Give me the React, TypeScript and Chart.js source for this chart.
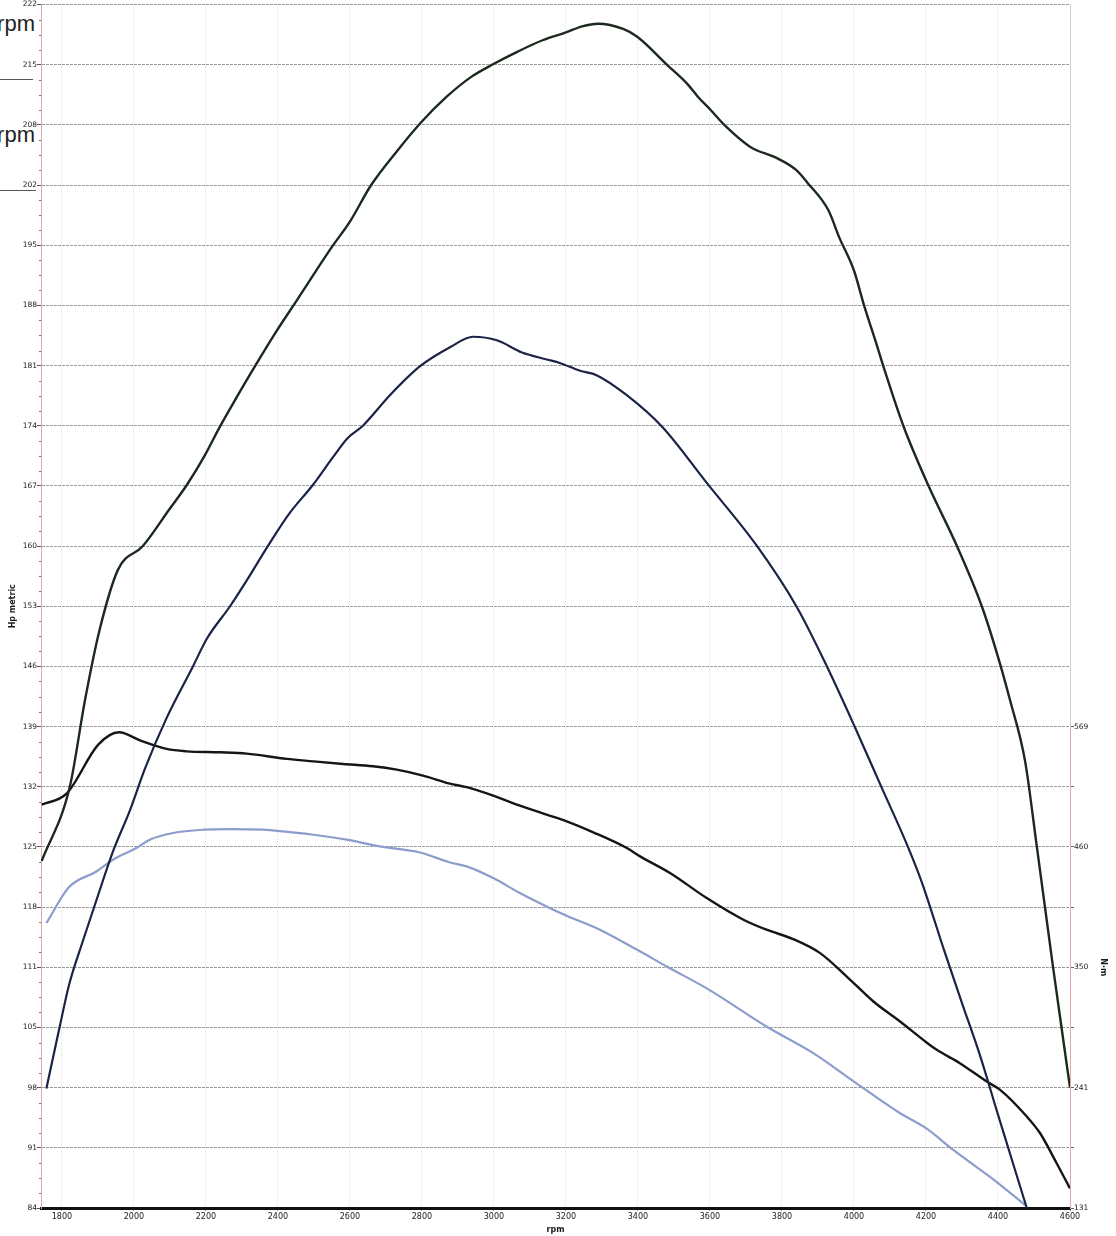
import React, { useEffect, useRef } from "react";
import { Chart, registerables } from "chart.js";

Chart.register(...registerables);

// tick labels as printed on the dyno sheet
const rpmTicks = [1800, 2000, 2200, 2400, 2600, 2800, 3000, 3200, 3400, 3600, 3800, 4000, 4200, 4400, 4600];
const hpTickLabels = ["84", "91", "98", "105", "111", "118", "125", "132", "139", "146", "153", "160", "167", "174", "181", "188", "195", "202", "208", "215", "222"];
const nmTickLabels = ["131", "241", "350", "460", "569"];

const RPM_MIN = 1742;
const RPM_MAX = 4600;
const HP_MIN = 84;
const HP_MAX = 222;
const NM_MIN = 131;
const NM_MAX = 569;

// power, run A (upper curve)
const powerARpm = [1744, 1822, 1864, 1903, 1956, 2025, 2100, 2147, 2197, 2239, 2286, 2336, 2397, 2453, 2550, 2600, 2659, 2729, 2798, 2868, 2937, 3000, 3066, 3135, 3200, 3245, 3289, 3359, 3398, 3483, 3537, 3567, 3602, 3642, 3711, 3790, 3840, 3870, 3929, 3959, 4000, 4028, 4063, 4081, 4137, 4206, 4286, 4355, 4400, 4433, 4475, 4508, 4553, 4600];
const powerAHp = [123.8, 132.3, 142.2, 150.0, 157.2, 159.9, 164.2, 166.9, 170.3, 173.6, 177.0, 180.5, 184.6, 188.1, 194.2, 197.1, 201.3, 205.1, 208.5, 211.4, 213.7, 215.2, 216.6, 217.9, 218.8, 219.5, 219.8, 219.2, 218.3, 215.0, 212.9, 211.4, 209.9, 208.1, 205.7, 204.3, 203.0, 201.6, 198.4, 195.3, 191.5, 187.5, 183.0, 180.6, 173.7, 166.9, 159.9, 153.0, 147.2, 142.3, 135.3, 125.4, 111.6, 97.8];

// power, run B
const powerBRpm = [1757, 1794, 1820, 1859, 1896, 1943, 1989, 2031, 2091, 2164, 2203, 2267, 2314, 2372, 2433, 2497, 2553, 2594, 2636, 2711, 2794, 2878, 2942, 3008, 3078, 3147, 3183, 3239, 3285, 3369, 3469, 3590, 3729, 3840, 3919, 4003, 4077, 4151, 4188, 4250, 4300, 4350, 4400, 4480];
const powerBHp = [97.7, 104.8, 109.6, 114.7, 119.3, 125.0, 129.6, 134.4, 140.2, 146.1, 149.3, 153.0, 156.0, 159.9, 163.7, 166.9, 170.1, 172.3, 173.7, 177.2, 180.5, 182.7, 183.9, 183.5, 182.1, 181.3, 180.9, 180.0, 179.5, 177.2, 173.5, 167.2, 160.0, 153.0, 146.6, 139.1, 132.2, 125.3, 121.4, 113.6, 107.5, 101.5, 94.7, 84];

// torque, run A
const torqueARpm = [1744, 1813, 1901, 1959, 2017, 2091, 2146, 2239, 2313, 2424, 2497, 2581, 2664, 2730, 2803, 2878, 2921, 2998, 3072, 3146, 3202, 3276, 3369, 3406, 3489, 3591, 3693, 3757, 3831, 3906, 3980, 4054, 4128, 4200, 4230, 4294, 4369, 4406, 4480, 4517, 4563, 4600];
const torqueANm = [498.0, 508.0, 552.6, 563.8, 556.5, 548.7, 546.5, 545.6, 544.4, 539.6, 537.4, 535.0, 532.9, 529.8, 524.4, 517.1, 514.1, 506.2, 497.1, 488.9, 482.8, 472.8, 458.5, 450.9, 435.8, 413.0, 393.3, 384.2, 375.7, 362.9, 341.6, 318.9, 300.7, 282.0, 274.9, 262.8, 246.0, 238.5, 214.2, 199.0, 171.7, 148.9];

// torque, run B
const torqueBRpm = [1757, 1820, 1896, 1942, 2007, 2044, 2109, 2193, 2267, 2359, 2415, 2498, 2591, 2683, 2794, 2878, 2924, 2998, 3072, 3146, 3202, 3294, 3398, 3480, 3598, 3757, 3887, 4000, 4128, 4200, 4276, 4401, 4475];
const torqueBNm = [390.3, 423.0, 437.2, 447.9, 458.5, 466.1, 472.2, 475.2, 475.8, 475.2, 473.6, 470.6, 466.1, 460.0, 454.5, 445.4, 441.8, 431.2, 417.6, 405.4, 396.9, 384.2, 365.9, 350.7, 329.5, 296.1, 271.9, 246.0, 217.2, 203.6, 183.8, 153.5, 133.7];

const pts = (xs: number[], ys: number[]) => xs.map((x, i) => ({ x, y: ys[i] }));

// small ticks between the labelled hp ticks
const minorTicks = {
  id: "minorTicks",
  afterDraw(chart: any) {
    const s = chart.scales.y;
    const ctx = chart.ctx;
    const n = (hpTickLabels.length - 1) * 4;
    ctx.save();
    ctx.strokeStyle = "#777";
    ctx.lineWidth = 1;
    for (let i = 1; i < n; i++) {
      if (i % 4 === 0) continue;
      const y = Math.round(s.getPixelForValue(HP_MIN + (i * (HP_MAX - HP_MIN)) / n)) + 0.5;
      ctx.beginPath();
      ctx.moveTo(s.right - 2, y);
      ctx.lineTo(s.right, y);
      ctx.stroke();
    }
    ctx.restore();
  },
};

const renderChart = (canvas: HTMLCanvasElement) => {
  Chart.defaults.font.family = "DejaVu Sans";
  Chart.defaults.color = "#1a1a1a";

  const line = (data: any[], color: string, width: number, axis: string) => ({
    data,
    yAxisID: axis,
    borderColor: color,
    backgroundColor: color,
    borderWidth: width,
    pointRadius: 0,
    cubicInterpolationMode: "monotone" as const,
    fill: false,
  });

  return new Chart(canvas, {
    type: "line",
    data: {
      datasets: [
        line(pts(powerARpm, powerAHp), "#1c2a1e", 2.4, "y"),
        line(pts(powerBRpm, powerBHp), "#1b2347", 2.2, "y"),
        line(pts(torqueARpm, torqueANm), "#151515", 2.4, "y2"),
        line(pts(torqueBRpm, torqueBNm), "#8c9dcb", 2.2, "y2"),
      ],
    },
    options: {
      animation: false,
      responsive: true,
      maintainAspectRatio: false,
      layout: { padding: 0 },
      plugins: { legend: { display: false }, tooltip: { enabled: false } },
      scales: {
        x: {
          type: "linear",
          min: RPM_MIN,
          max: RPM_MAX,
          afterBuildTicks: (axis: any) => {
            axis.ticks = rpmTicks.map((value) => ({ value }));
          },
          afterFit: (axis: any) => {
            axis.height = 28;
          },
          ticks: { font: { size: 8 }, padding: 1, maxRotation: 0, callback: (v: any) => String(v) },
          grid: { color: "#d4d4d4", tickLength: 3, tickColor: "#999" },
          border: { color: "#111", width: 3, dash: [1, 2] },
          title: { display: true, text: "rpm", font: { size: 8, weight: "bold" }, padding: { top: 0, bottom: 1 } },
        },
        y: {
          type: "linear",
          position: "left",
          min: HP_MIN,
          max: HP_MAX,
          afterBuildTicks: (axis: any) => {
            const n = hpTickLabels.length - 1;
            axis.ticks = hpTickLabels.map((_, i) => ({ value: HP_MIN + (i * (HP_MAX - HP_MIN)) / n }));
          },
          afterFit: (axis: any) => {
            axis.width = 41;
          },
          ticks: { font: { size: 7.5 }, padding: 0, callback: (_v: any, i: number) => hpTickLabels[i] },
          grid: { color: "#9a9a9a", tickLength: 4, tickColor: "#555" },
          border: { color: "#e3a9a9", width: 1, dash: [3, 1] },
          title: { display: true, text: "Hp metric", font: { size: 8, weight: "bold" }, padding: { top: 8, bottom: 0 } },
        },
        yTop: {
          type: "linear",
          position: "right",
          stack: "right",
          stackWeight: 12,
          min: 0,
          max: 1,
          afterFit: (axis: any) => {
            axis.width = 46;
          },
          ticks: { display: false },
          grid: { drawOnChartArea: false, drawTicks: false },
          border: { color: "#cfcfcf", width: 1 },
        },
        y2: {
          type: "linear",
          position: "right",
          stack: "right",
          stackWeight: 8,
          min: NM_MIN,
          max: NM_MAX,
          afterBuildTicks: (axis: any) => {
            const n = (nmTickLabels.length - 1) * 2;
            axis.ticks = Array.from({ length: n + 1 }, (_, i) => ({ value: NM_MIN + (i * (NM_MAX - NM_MIN)) / n }));
          },
          afterFit: (axis: any) => {
            axis.width = 46;
          },
          ticks: {
            font: { size: 7.5 },
            padding: 0,
            callback: (_v: any, i: number) => (i % 2 === 0 ? nmTickLabels[i / 2] : ""),
          },
          grid: { drawOnChartArea: false, tickLength: 4, tickColor: "#666" },
          border: { color: "#e3a9a9", width: 1 },
          title: { display: true, text: "N·m", font: { size: 8, weight: "bold" }, padding: { top: 8, bottom: 0 } },
        },
      },
    },
    plugins: [minorTicks],
  });
};

export default function App() {
  const canvasRef = useRef<HTMLCanvasElement>(null);

  useEffect(() => {
    const chart = renderChart(canvasRef.current as HTMLCanvasElement);
    return () => {
      chart.destroy();
    };
  }, []);

  // leftover "rpm" captions cut off at the left edge of the scan
  const rpmLabel: React.CSSProperties = {
    position: "absolute",
    left: -70,
    width: 105,
    textAlign: "right",
    fontFamily: "Liberation Sans, Arial, sans-serif",
    fontSize: 22,
    lineHeight: "22px",
    color: "#222",
  };

  return (
    <div style={{ position: "absolute", left: 0, top: 0, width: 1116, height: 1236, background: "#fff", overflow: "hidden" }}>
      <div style={{ ...rpmLabel, top: 13 }}>rpm</div>
      <div style={{ position: "absolute", left: 0, top: 79, width: 33, height: 1, background: "#555" }} />
      <div style={{ ...rpmLabel, top: 124 }}>rpm</div>
      <div style={{ position: "absolute", left: 0, top: 190, width: 36, height: 1, background: "#555" }} />
      <div style={{ position: "absolute", left: 0, top: 0, width: 1116, height: 1236 }}>
        <canvas ref={canvasRef} />
      </div>
    </div>
  );
}
